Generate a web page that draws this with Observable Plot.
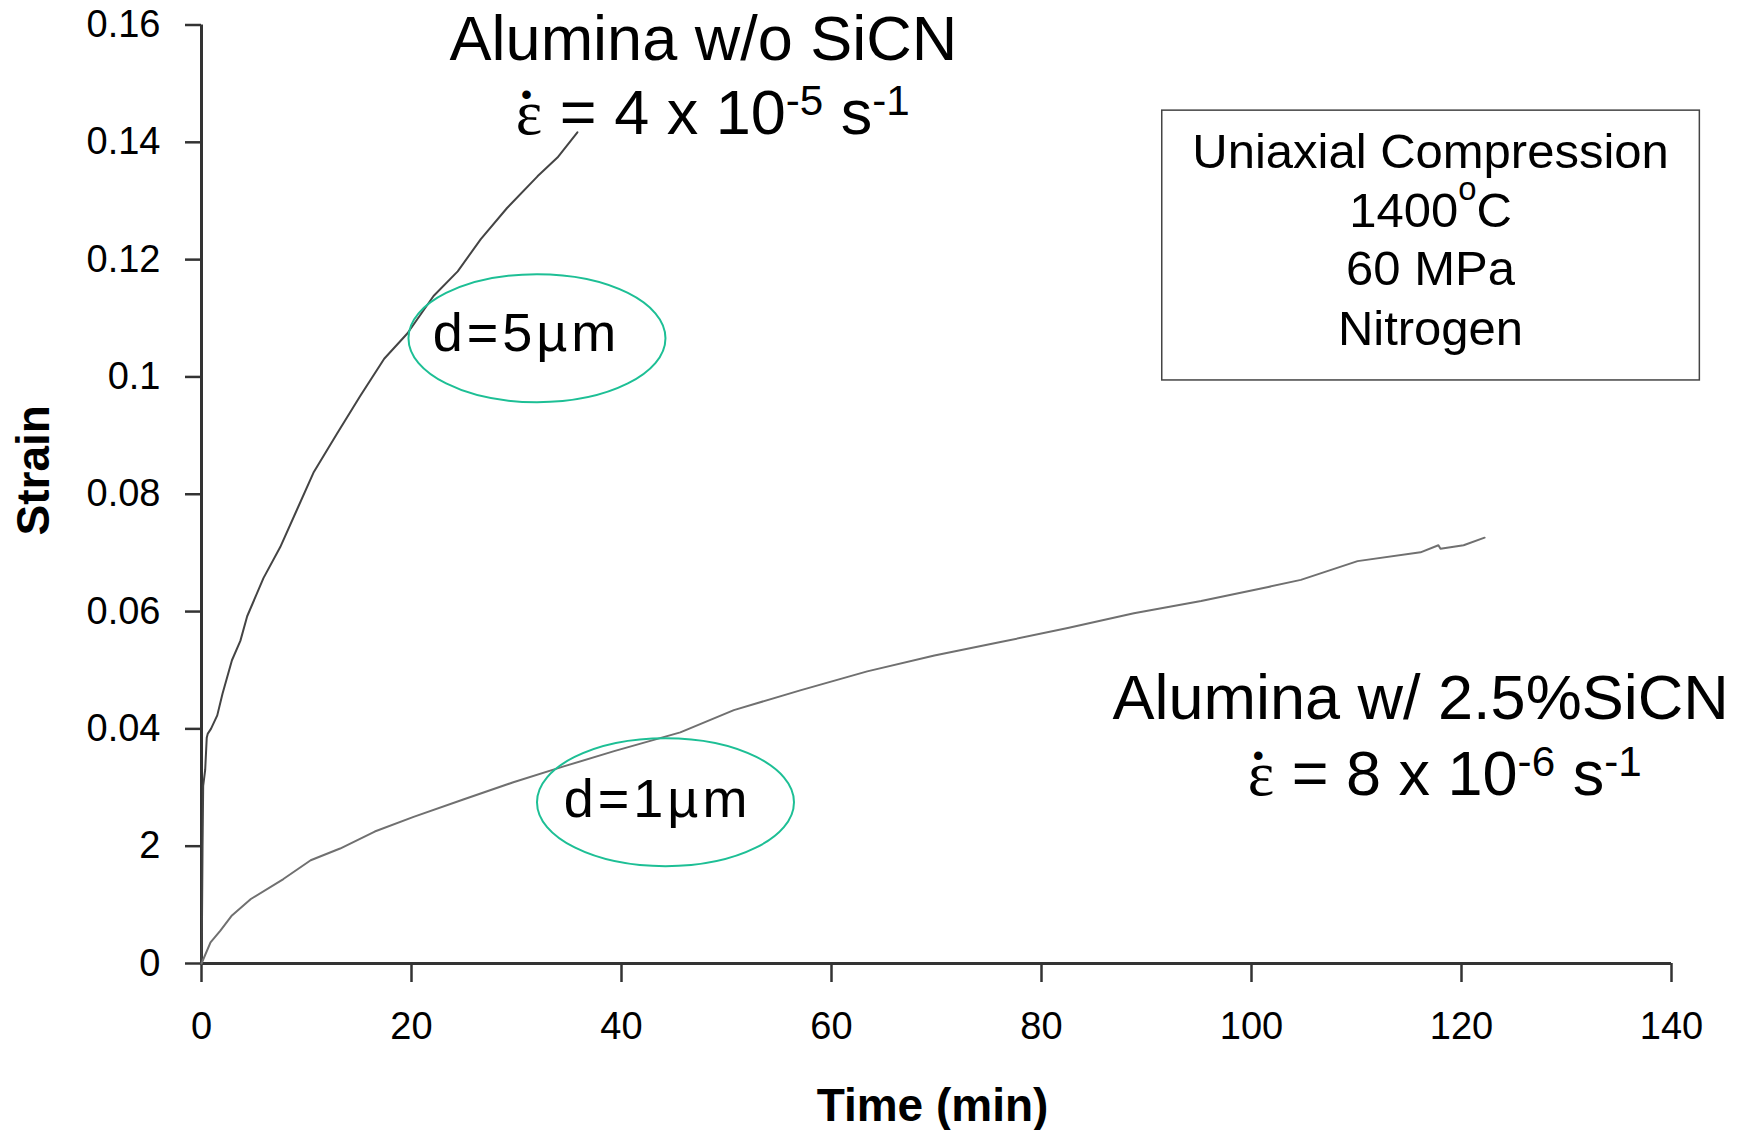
<!DOCTYPE html>
<html><head><meta charset="utf-8">
<script src="https://cdn.jsdelivr.net/npm/d3@7"></script>
<script src="https://cdn.jsdelivr.net/npm/@observablehq/plot@0.6"></script>
<style>html,body{margin:0;padding:0;background:#fff;} #chart{width:1743px;height:1130px;}</style>
</head><body><div id="chart"></div>
<script>
// Alumina without SiCN (d = 5 µm)
const woTime   = [0, 0.05, 0.1, 0.16, 0.35, 0.5, 0.6, 0.9, 1.5, 2.0, 2.9, 3.7, 4.35, 5.9, 7.5, 9.1, 10.7, 12.9, 15.1, 17.4, 19.6, 22.1, 24.4, 26.6, 29.1, 32.0, 33.9, 35.8];
const woStrain = [0, 0.008, 0.02, 0.0303, 0.033, 0.0385, 0.0392, 0.0400, 0.0423, 0.0460, 0.0517, 0.0550, 0.0592, 0.0657, 0.0710, 0.0774, 0.0838, 0.0903, 0.0967, 0.1031, 0.1074, 0.1138, 0.1180, 0.1235, 0.1288, 0.1342, 0.1374, 0.1417];
// Alumina with 2.5% SiCN (d = 1 µm)
const wTime   = [0, 0.86, 1.8, 2.9, 4.7, 7.8, 10.4, 13.2, 16.5, 20.2, 25.0, 29.7, 34.5, 39.3, 45.6, 50.7, 57.1, 63.4, 69.8, 76.1, 82.5, 88.8, 95.2, 101.6, 104.7, 110.1, 116.1, 117.8, 118.0, 120.2, 122.2];
const wStrain = [0, 0.0036, 0.0056, 0.0082, 0.0110, 0.0144, 0.0176, 0.0196, 0.0225, 0.0250, 0.0280, 0.0309, 0.0336, 0.0362, 0.0394, 0.0432, 0.0466, 0.0498, 0.0525, 0.0548, 0.0572, 0.0597, 0.0618, 0.0642, 0.0654, 0.0686, 0.0701, 0.0713, 0.0707, 0.0713, 0.0726];

const xTicks = [0, 20, 40, 60, 80, 100, 120, 140];
const yTicks = [0, 0.02, 0.04, 0.06, 0.08, 0.1, 0.12, 0.14, 0.16];
const yTickLabels = ["0", "2", "0.04", "0.06", "0.08", "0.1", "0.12", "0.14", "0.16"];
const xLabel = "Time (min)";
const yLabel = "Strain";

const curveLabels = ["Alumina w/o SiCN", "ε\u0307 = 4 x 10^{-5} s^{-1}", "Alumina w/ 2.5%SiCN", "ε\u0307 = 8 x 10^{-6} s^{-1}"];
const curveLabelTime = [47.8, 48.7, 116.1, 118.4];
const curveLabelStrain = [0.1541, 0.1415, 0.0416, 0.0288];

const grainLabels = ["d=5µm", "d=1µm"];
const grainLabelTime = [30.95, 43.43];
const grainLabelStrain = [0.1045, 0.0249];
const grainEllipseTime = [31.95, 44.19];
const grainEllipseStrain = [0.1066, 0.0275];

const condLines = ["Uniaxial Compression", "1400^^{o}C", "60 MPa", "Nitrogen"];
const condTime = 117.05;
const condStrain = [0.1357, 0.1256, 0.1156, 0.1054];
const condBoxTime = [91.5, 142.7];
const condBoxStrain = [0.0994, 0.1454];

// build tables
const wo = woTime.map((t, i) => ({t, s: woStrain[i]}));
const w = wTime.map((t, i) => ({t, s: wStrain[i]}));
const curveAnn = curveLabels.map((text, i) => ({text, t: curveLabelTime[i], s: curveLabelStrain[i]}));
const grainAnn = grainLabels.map((text, i) => ({text, t: grainLabelTime[i], s: grainLabelStrain[i]}));
const ellAnn = grainEllipseTime.map((t, i) => ({t, s: grainEllipseStrain[i]}));
const condAnn = condLines.map((text, i) => ({text, t: condTime, s: condStrain[i]}));
const box = [{x1: condBoxTime[0], x2: condBoxTime[1], y1: condBoxStrain[0], y2: condBoxStrain[1]}];

const ellipse = (rx, ry) => ({
  draw(ctx) {
    const k = 0.5523;
    ctx.moveTo(rx, 0);
    ctx.bezierCurveTo(rx, ry * k, rx * k, ry, 0, ry);
    ctx.bezierCurveTo(-rx * k, ry, -rx, ry * k, -rx, 0);
    ctx.bezierCurveTo(-rx, -ry * k, -rx * k, -ry, 0, -ry);
    ctx.bezierCurveTo(rx * k, -ry, rx, -ry * k, rx, 0);
    ctx.closePath();
  }
});

const axisColor = "#333";
const plot = Plot.plot({
  width: 1743, height: 1130,
  marginLeft: 201, marginRight: 72, marginTop: 24.5, marginBottom: 167,
  x: {domain: [0, 140]},
  y: {domain: [0, 0.16]},
  style: {fontFamily: "'Liberation Sans', Arial, sans-serif", fontSize: "38px", color: "black", background: "white", overflow: "visible"},
  marks: [
    Plot.axisX({ticks: xTicks, tickSize: 19, tickPadding: 30, label: null, stroke: axisColor, strokeWidth: 2.5, tickFormat: d => String(d)}),
    Plot.axisY({ticks: yTicks, tickSize: 16, tickPadding: 25, label: null, stroke: axisColor, strokeWidth: 2.5, tickFormat: d => yTickLabels[yTicks.indexOf(d)]}),
    Plot.ruleX([0], {stroke: axisColor, strokeWidth: 3}),
    Plot.ruleY([0], {stroke: axisColor, strokeWidth: 3}),
    Plot.line(wo, {x: "t", y: "s", stroke: "#444", strokeWidth: 2}),
    Plot.line(w, {x: "t", y: "s", stroke: "#707070", strokeWidth: 2}),
    Plot.dot(ellAnn, {x: "t", y: "s", r: 10, symbol: ellipse(128.5, 64), fill: "none", stroke: "#1dbf95", strokeWidth: 2}),
    Plot.rect(box, {x1: "x1", x2: "x2", y1: "y1", y2: "y2", fill: "none", stroke: "#444", strokeWidth: 1.5}),
    Plot.text(curveAnn, {x: "t", y: "s", text: "text", fontSize: 63, lineAnchor: "bottom", textAnchor: "middle", fill: "black"}),
    Plot.text(grainAnn, {x: "t", y: "s", text: "text", fontSize: 54, lineAnchor: "bottom", textAnchor: "middle", fill: "black"}),
    Plot.text(condAnn, {x: "t", y: "s", text: "text", fontSize: 49, lineAnchor: "bottom", textAnchor: "middle", fill: "black"}),
    Plot.text([yLabel], {text: d => d, frameAnchor: "left", textAnchor: "middle", rotate: -90, dx: -167.5, dy: -24, fontSize: 46, fontWeight: "bold", fill: "black"}),
    Plot.text([xLabel], {text: d => d, frameAnchor: "bottom", textAnchor: "middle", lineAnchor: "bottom", dx: -4, dy: 157, fontSize: 46, fontWeight: "bold", fill: "black"})
  ]
});
document.getElementById("chart").appendChild(plot);

// rich text: superscripts and dotted serif epsilon
const ns = "http://www.w3.org/2000/svg";
const serif = "'Liberation Serif', 'DejaVu Serif', serif";
function richText(el) {
  const s = el.textContent;
  if (!/\^|ε/.test(s)) return;
  const fs = parseFloat(getComputedStyle(el).fontSize);
  while (el.firstChild) el.removeChild(el.firstChild);
  const re = /\^\^\{([^}]*)\}|\^\{([^}]*)\}|ε\u0307?/g;
  let last = 0, m, shift = 0, pendDx = 0;
  const add = (txt, attrs) => {
    const t = document.createElementNS(ns, "tspan");
    for (const k in attrs) t.setAttribute(k, attrs[k]);
    t.textContent = txt; el.appendChild(t);
    return t;
  };
  const plain = txt => {
    if (!txt) return;
    const a = {};
    if (shift) a.dy = shift;
    if (pendDx) a.dx = pendDx;
    add(txt, a); shift = 0; pendDx = 0;
  };
  while ((m = re.exec(s))) {
    plain(s.slice(last, m.index));
    if (m[1] !== undefined || m[2] !== undefined) {
      const raise = (m[1] !== undefined ? 0.55 : 0.29) * fs;
      const a = {dy: shift - raise, "font-size": 0.67 * fs};
      if (pendDx) a.dx = pendDx;
      add(m[1] !== undefined ? m[1] : m[2], a);
      shift = raise; pendDx = 0;
    } else {
      const e = add("ε", {dy: shift, "font-family": serif});
      shift = 0;
      const epsW = e.getComputedTextLength();
      const d = add("•", {"font-size": 0.5 * fs});
      const dotW = d.getComputedTextLength();
      d.setAttribute("dx", -epsW * 0.6 - dotW / 2);
      d.setAttribute("dy", -0.45 * fs);
      shift = 0.45 * fs;
      pendDx = epsW * 0.6 - dotW / 2;
    }
    last = re.lastIndex;
  }
  plain(s.slice(last));
}
plot.querySelectorAll("text").forEach(el => {
  if (el.textContent.startsWith("d=")) el.style.letterSpacing = "4px";
  richText(el);
});
</script>
</body></html>
